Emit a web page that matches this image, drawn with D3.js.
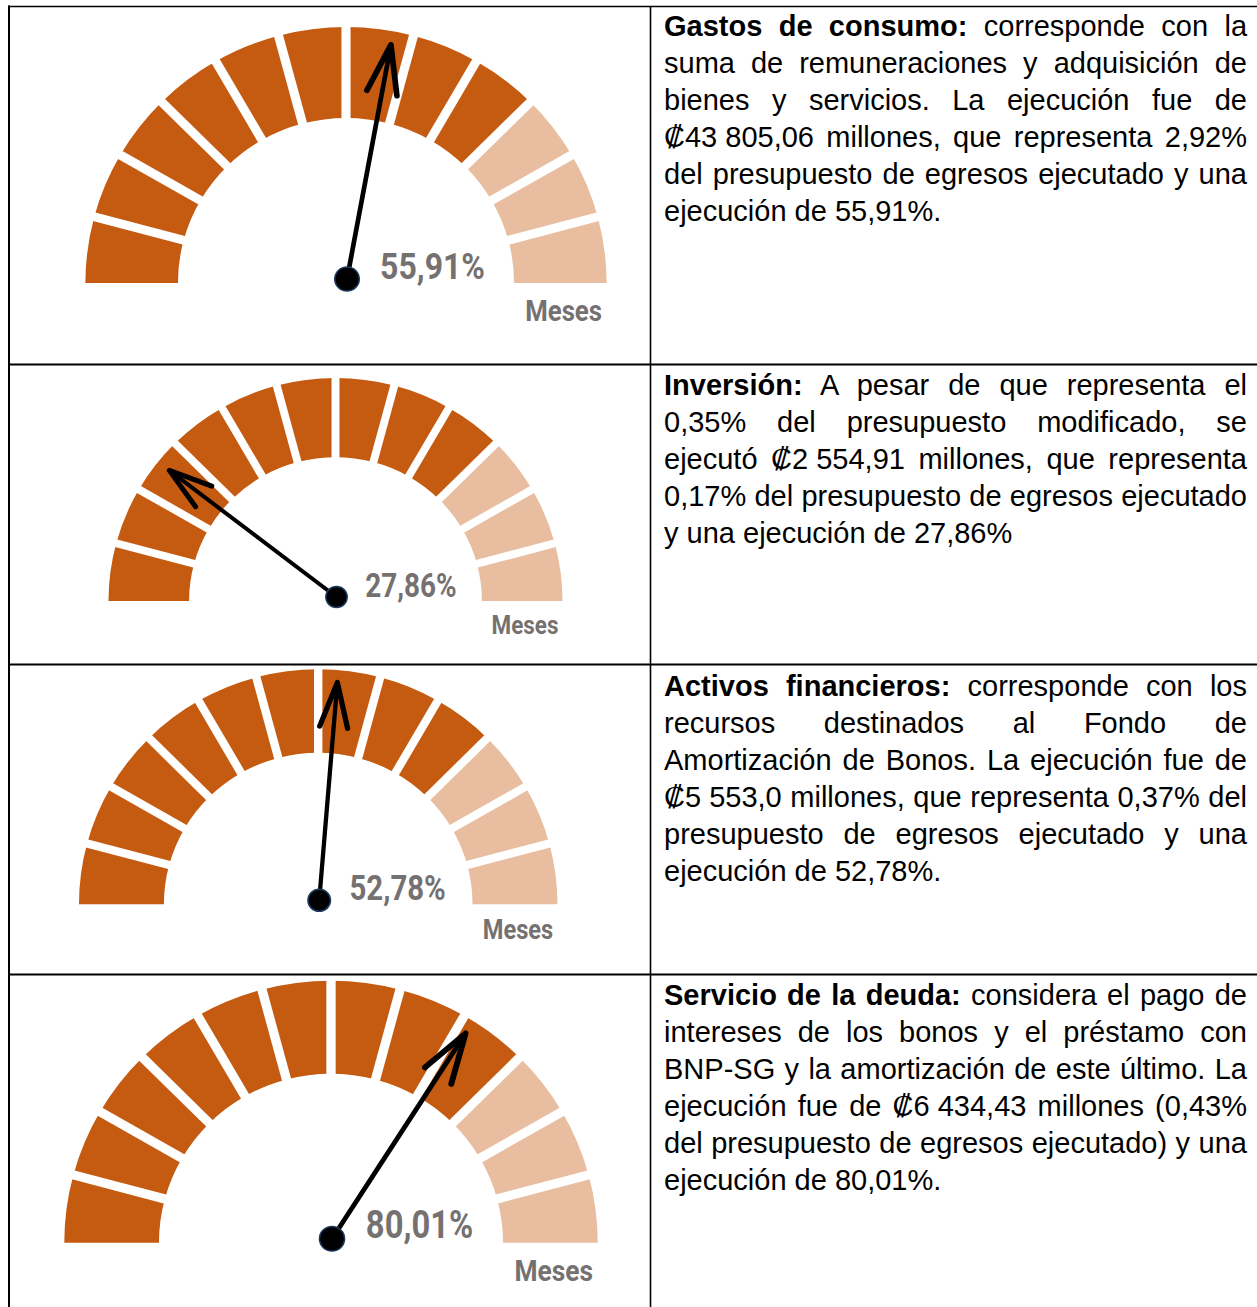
<!DOCTYPE html>
<html>
<head>
<meta charset="utf-8">
<script src="https://cdn.jsdelivr.net/npm/d3@7"></script>
<style>
  html, body { margin: 0; padding: 0; background: #fff; }
  #page { position: relative; width: 1257px; height: 1307px; overflow: hidden; }
  #page svg { position: absolute; left: 0; top: 0; }
  .cell { position: absolute; left: 664px; width: 583px;
          font-family: "Liberation Sans", Arial, sans-serif; font-size: 29px;
          line-height: 37px; color: #000; }
  .cell .ln { text-align: justify; text-align-last: justify; white-space: nowrap; }
  .cell .ln.last { text-align-last: left; }
  .cell b { font-weight: bold; }
  .cell .num { display: inline-block; }
  .dial-label { font-family: Roboto, "Liberation Sans", sans-serif; font-weight: bold; fill: #767171; }
</style>
</head>
<body>
<div id="page"></div>
<script>
// ---- data ----
const rubros = ["Gastos de consumo", "Inversión", "Activos financieros", "Servicio de la deuda"];
const ejecucion = [55.91, 27.86, 52.78, 80.01];   // % printed on each dial
const needleAt = [55.8, 20.9, 52.6, 68.1];        // where the (hand drawn) needle points, % of dial
const months = d3.range(1, 13);                   // one segment per month
const monthsDone = 9;                             // dark segments
const unitLabel = "Meses";

// right column text, line by line as in the source ({..} = number kept together)
const leads = ["Gastos de consumo:", "Inversión:", "Activos financieros:", "Servicio de la deuda:"];
const paragraphs = [
  [" corresponde con la",
   "suma de remuneraciones y adquisición de",
   "bienes y servicios. La ejecución fue de",
   "{₡43 805,06} millones, que representa 2,92%",
   "del presupuesto de egresos ejecutado y una",
   "ejecución de 55,91%."],
  [" A pesar de que representa el",
   "0,35% del presupuesto modificado, se",
   "ejecutó {₡2 554,91} millones, que representa",
   "0,17% del presupuesto de egresos ejecutado",
   "y una ejecución de 27,86%"],
  [" corresponde con los",
   "recursos destinados al Fondo de",
   "Amortización de Bonos. La ejecución fue de",
   "{₡5 553,0} millones, que representa 0,37% del",
   "presupuesto de egresos ejecutado y una",
   "ejecución de 52,78%."],
  [" considera el pago de",
   "intereses de los bonos y el préstamo con",
   "BNP-SG y la amortización de este último. La",
   "ejecución fue de {₡6 434,43} millones (0,43%",
   "del presupuesto de egresos ejecutado) y una",
   "ejecución de 80,01%."]
];

// ---- layout ----
const W = 1257, H = 1307;
const dials = [
  {cx: 346, cy: 283, r: 256},
  {cx: 335.5, cy: 601, r: 223},
  {cx: 318.2, cy: 904.3, r: 235},
  {cx: 331, cy: 1242.7, r: 262}
];
const rowTop = [6.5, 364.5, 664.5, 974.5];
const textTop = [7.5, 366.5, 667.5, 976.5];
const dark = "#C55A11";

const es = d3.formatLocale({decimal: ",", thousands: "\u00a0", grouping: [3], currency: ["₡", ""]});
const pct = d => es.format(".2f")(d) + "%";

const page = d3.select("#page");
const svg = page.append("svg").attr("width", W).attr("height", H);

// table rules
const rules = svg.append("g").attr("stroke", "#000");
rules.append("line").attr("x1", 9).attr("x2", 9).attr("y1", 5.5).attr("y2", H).attr("stroke-width", 2);
rules.append("line").attr("x1", 650.5).attr("x2", 650.5).attr("y1", 6).attr("y2", H).attr("stroke-width", 1.6);
rules.selectAll(".row").data(rowTop).enter().append("line")
  .attr("x1", 8).attr("x2", W).attr("y1", d => d).attr("y2", d => d)
  .attr("stroke-width", (d, i) => i === 0 ? 1.5 : 2);

// dials
const segAngle = d3.scaleLinear().domain([0, months.length]).range([-Math.PI / 2, Math.PI / 2]);
const needleAngle = d3.scaleLinear().domain([0, 100]).range([-Math.PI / 2, Math.PI / 2]);

dials.forEach(function(dl, i) {
  const ro = dl.r, ri = dl.r * 0.645, gap = dl.r * 0.035;
  const g = svg.append("g")
    .attr("transform", "translate(" + dl.cx + "," + dl.cy + ") scale(1.018,1)");

  const arc = d3.arc().innerRadius(ri).outerRadius(ro)
    .startAngle(d => segAngle(d - 1)).endAngle(d => segAngle(d));

  g.selectAll(".seg").data(months).enter().append("path")
    .attr("d", arc)
    .attr("fill", dark)
    .attr("fill-opacity", d => d <= monthsDone ? 1 : 0.4);

  // white gaps between months
  g.selectAll(".gap").data(months.slice(0, -1)).enter().append("line")
    .attr("x1", d => Math.sin(segAngle(d)) * (ri - 2))
    .attr("y1", d => -Math.cos(segAngle(d)) * (ri - 2))
    .attr("x2", d => Math.sin(segAngle(d)) * (ro + 2))
    .attr("y2", d => -Math.cos(segAngle(d)) * (ro + 2))
    .attr("stroke", "#fff").attr("stroke-width", gap);

  // needle
  const a = needleAngle(needleAt[i]);
  const px = 1, py = -4;
  const L = dl.r * 0.93;
  const tx = px + Math.sin(a) * L, ty = py - Math.cos(a) * L;
  const bx = -Math.sin(a), by = Math.cos(a);
  const wl = dl.r * 0.2, w = 17 * Math.PI / 180;
  const wing = s => [tx + wl * (bx * Math.cos(s * w) - by * Math.sin(s * w)),
                     ty + wl * (bx * Math.sin(s * w) + by * Math.cos(s * w))];
  const line = d3.line();
  g.append("path").attr("d", line([[px, py], [tx, ty]]))
    .attr("fill", "none").attr("stroke", "#000")
    .attr("stroke-width", dl.r * 0.018).attr("stroke-linecap", "round");
  g.append("path").attr("d", line([wing(1), [tx, ty], wing(-1)]))
    .attr("fill", "none").attr("stroke", "#000")
    .attr("stroke-width", dl.r * 0.022).attr("stroke-linecap", "round").attr("stroke-linejoin", "round");
  g.append("circle").attr("cx", px).attr("cy", py).attr("r", dl.r * 0.047)
    .attr("fill", "#000").attr("stroke", "#1F3A60").attr("stroke-width", 1.5);

  // labels (condensed look: squeezed to the width they take in the source)
  svg.append("text").attr("class", "dial-label")
    .attr("x", dl.cx + dl.r * 0.133).attr("y", dl.cy - 4.5)
    .attr("font-size", dl.r * 0.146)
    .attr("textLength", dl.r * 0.41).attr("lengthAdjust", "spacingAndGlyphs")
    .text(pct(ejecucion[i]));
  svg.append("text").attr("class", "dial-label")
    .attr("x", dl.cx + dl.r * 0.7).attr("y", dl.cy + dl.r * 0.147)
    .attr("font-size", dl.r * 0.115)
    .attr("textLength", dl.r * 0.3).attr("lengthAdjust", "spacingAndGlyphs")
    .text(unitLabel);
});

// right column text
const fill = (sel, s) => {
  s.split(/(\{[^}]*\})/).forEach(part => {
    if (part.startsWith("{")) sel.append("span").attr("class", "num").text(part.slice(1, -1));
    else if (part) sel.append("span").text(part);
  });
};
paragraphs.forEach(function(lines, i) {
  const cell = page.append("div").attr("class", "cell").style("top", textTop[i] + "px");
  lines.forEach(function(s, j) {
    const ln = cell.append("div").attr("class", "ln" + (j === lines.length - 1 ? " last" : ""));
    if (j === 0) ln.append("b").text(leads[i]);
    fill(ln, s);
  });
});
</script>
</body>
</html>
